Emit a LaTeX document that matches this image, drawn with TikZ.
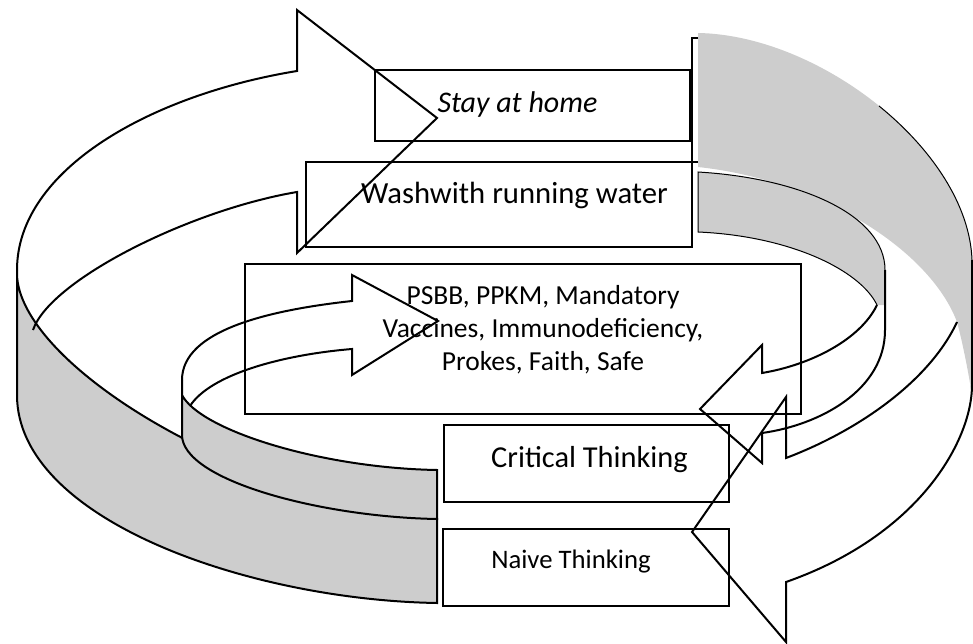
\documentclass[tikz,border=0pt]{standalone}
\usepackage{fontspec}
\setmainfont{Carlito}
\definecolor{bandgray}{RGB}{205,205,205}
\tikzset{
  box/.style={draw, line width=2pt, inner sep=0pt, outer sep=0pt},
  lbl/.style={inner sep=0pt, anchor=base},
  ring/.style={line width=2pt, line join=miter},
  band/.style={fill=bandgray, line width=2pt},
  rim/.style={line width=1pt},
}
\begin{document}
\begin{tikzpicture}[x=1pt, y=-1pt]
  \useasboundingbox (0,0) rectangle (973,644);
  \draw[band] (17,270) -- (17,395) .. controls (17,520) and (250,600) .. (437,603) -- (437,519) .. controls (220,490) and (20,360) .. (17,275) -- cycle;
  \draw[ring] (33,330) .. controls (50,280) and (190,210) .. (297,192) -- (297,253) -- (437,118) -- (297,10) -- (297,71) .. controls (150,95) and (17,170) .. (17,270);
  \draw[band] (182,380) -- (182,435) .. controls (182,480) and (320,517) .. (437,519) -- (437,470) .. controls (320,468) and (200,430) .. (182,395) -- cycle;
  \draw[ring] (190,406) .. controls (210,375) and (280,355) .. (352,349) -- (352,375) -- (438,321) -- (352,275) -- (352,301) .. controls (270,310) and (182,330) .. (182,380);
  \fill[bandgray] (698,33) .. controls (820,35) and (968,150) .. (972,260) -- (972,395) .. controls (968,370) and (962,340) .. (957,322) .. controls (930,250) and (820,180) .. (698,167) -- cycle;
  \draw[rim] (879,106) .. controls (932,149) and (970,205) .. (972,260);
  \draw[ring] (698,38) -- (692,38) -- (692,162) -- (698,162);
  \draw[ring] (957,322) .. controls (930,380) and (860,430) .. (786,458) -- (786,397) -- (692,532) -- (786,642) -- (786,582) .. controls (920,535) and (972,440) .. (972,385) -- (972,260);
  \fill[bandgray] (698,172) .. controls (800,178) and (885,215) .. (885,270) -- (885,305) -- (877,305) .. controls (860,270) and (790,236) .. (698,232) -- cycle;
  \draw[rim] (877,305) .. controls (860,270) and (790,236) .. (698,232) -- (698,172) .. controls (800,178) and (885,215) .. (885,270);
  \draw[ring] (877,305) .. controls (860,340) and (810,365) .. (762,373) -- (762,345) -- (700,409) -- (762,463) -- (762,433) .. controls (820,425) and (885,390) .. (885,330) -- (885,270);
  \node[box, minimum width=315pt, minimum height=71pt] (stay) at (532.5,105.5) {};
  \node[box, minimum width=386pt, minimum height=85pt] (wash) at (499,204.5) {};
  \node[box, minimum width=556pt, minimum height=150pt] (rules) at (523,339) {};
  \node[box, minimum width=285pt, minimum height=77pt] (critical) at (586.5,463.5) {};
  \node[box, minimum width=286pt, minimum height=77pt] (naive) at (586,567.5) {};
  \node[lbl, font=\fontsize{30}{36}\selectfont\itshape] (staytxt) at (517.5,113) {Stay at home};
  \node[lbl, font=\fontsize{30.7}{37}\selectfont] (washtxt) at (514.5,204) {Washwith running water};
  \node[inner sep=0pt, align=center, font=\fontsize{27.5}{33}\selectfont] (rulestxt) at (543,330) {PSBB, PPKM, Mandatory\\Vaccines, Immunodeficiency,\\Prokes, Faith, Safe};
  \node[lbl, font=\fontsize{30.4}{36}\selectfont] (criticaltxt) at (589.5,467) {Critical Thinking};
  \node[lbl, font=\fontsize{26.7}{32}\selectfont] (naivetxt) at (571,568) {Naive Thinking};
\end{tikzpicture}
\end{document}
